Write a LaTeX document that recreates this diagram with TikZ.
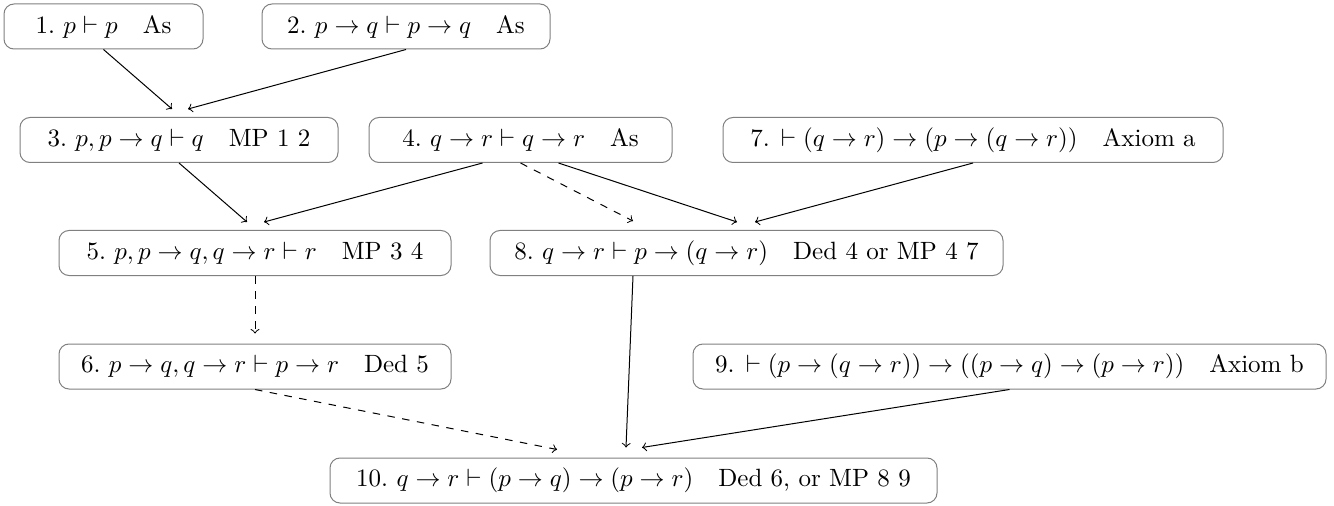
\documentclass[tikz,border=0pt]{standalone}
\usetikzlibrary{calc}
\def\pxu{0.4pt}
\begin{document}
\begin{tikzpicture}[x=0.4pt, y=-0.4pt,
  proof/.style={draw=black!50, line width=0.4pt, rounded corners=4pt,
    minimum height=45*\pxu, inner xsep=0pt, inner ysep=0pt},
  arr/.style={->, black, line width=0.4pt},
  alt/.style={arr, dashed}]
\useasboundingbox (0,0) rectangle (1334,506);

% proof lines
\node[proof, minimum width=199*\pxu] (n1) at (103.5,26.5) {1.\ $p \vdash p$\quad As};
\node[proof, minimum width=288*\pxu] (n2) at (406,26.5) {2.\ $p \to q \vdash p \to q$\quad As};
\node[proof, minimum width=318*\pxu] (n3) at (179,140) {3.\ $p, p \to q \vdash q$\quad MP 1 2};
\node[proof, minimum width=303*\pxu] (n4) at (520.5,140) {4.\ $q \to r \vdash q \to r$\quad As};
\node[proof, minimum width=500*\pxu] (n7) at (973,140) {7. $\vdash (q \to r) \to (p \to (q \to r))$\quad Axiom a};
\node[proof, minimum width=392*\pxu] (n5) at (255,253) {5.\ $p, p \to q, q \to r \vdash r$\quad MP 3 4};
\node[proof, minimum width=513*\pxu] (n8) at (746.5,253) {8.\ $q \to r \vdash p \to (q \to r)$\quad Ded 4 or MP 4 7};
\node[proof, minimum width=392*\pxu] (n6) at (255,366.5) {6.\ $p \to q, q \to r \vdash p \to r$\quad Ded 5};
\node[proof, minimum width=633*\pxu] (n9) at (1009.5,366.5) {9. $\vdash (p \to (q \to r)) \to ((p \to q) \to (p \to r))$\quad Axiom b};
\node[proof, minimum width=607*\pxu] (n10) at (633.5,480.5) {10.\ $q \to r \vdash (p \to q) \to (p \to r)$\quad Ded 6, or MP 8 9};

% inferences
\draw[arr] (n1.south) -- ($(n3.north)+(-7,-8)$);
\draw[arr] (n2.south) -- ($(n3.north)+(9,-8)$);
\draw[arr] (n3.south) -- ($(n5.north)+(-8,-8)$);
\draw[arr] ($(n4.south)+(-38,0)$) -- ($(n5.north)+(9,-8)$);
\draw[alt] (n4.south) -- ($(n8.north)+(-113.5,-9)$);
\draw[arr] ($(n4.south)+(38,0)$) -- ($(n8.north)+(-9.5,-8)$);
\draw[arr] (n7.south) -- ($(n8.north)+(8.5,-8)$);
\draw[alt] (n5.south) -- ($(n6.north)+(0,-10)$);
\draw[alt] (n6.south) -- ($(n10.north)+(-76.5,-8)$);
\draw[arr] ($(n8.south)+(-113.5,0)$) -- ($(n10.north)+(-7.5,-10)$);
\draw[arr] (n9.south) -- ($(n10.north)+(8.5,-10)$);
\end{tikzpicture}
\end{document}
